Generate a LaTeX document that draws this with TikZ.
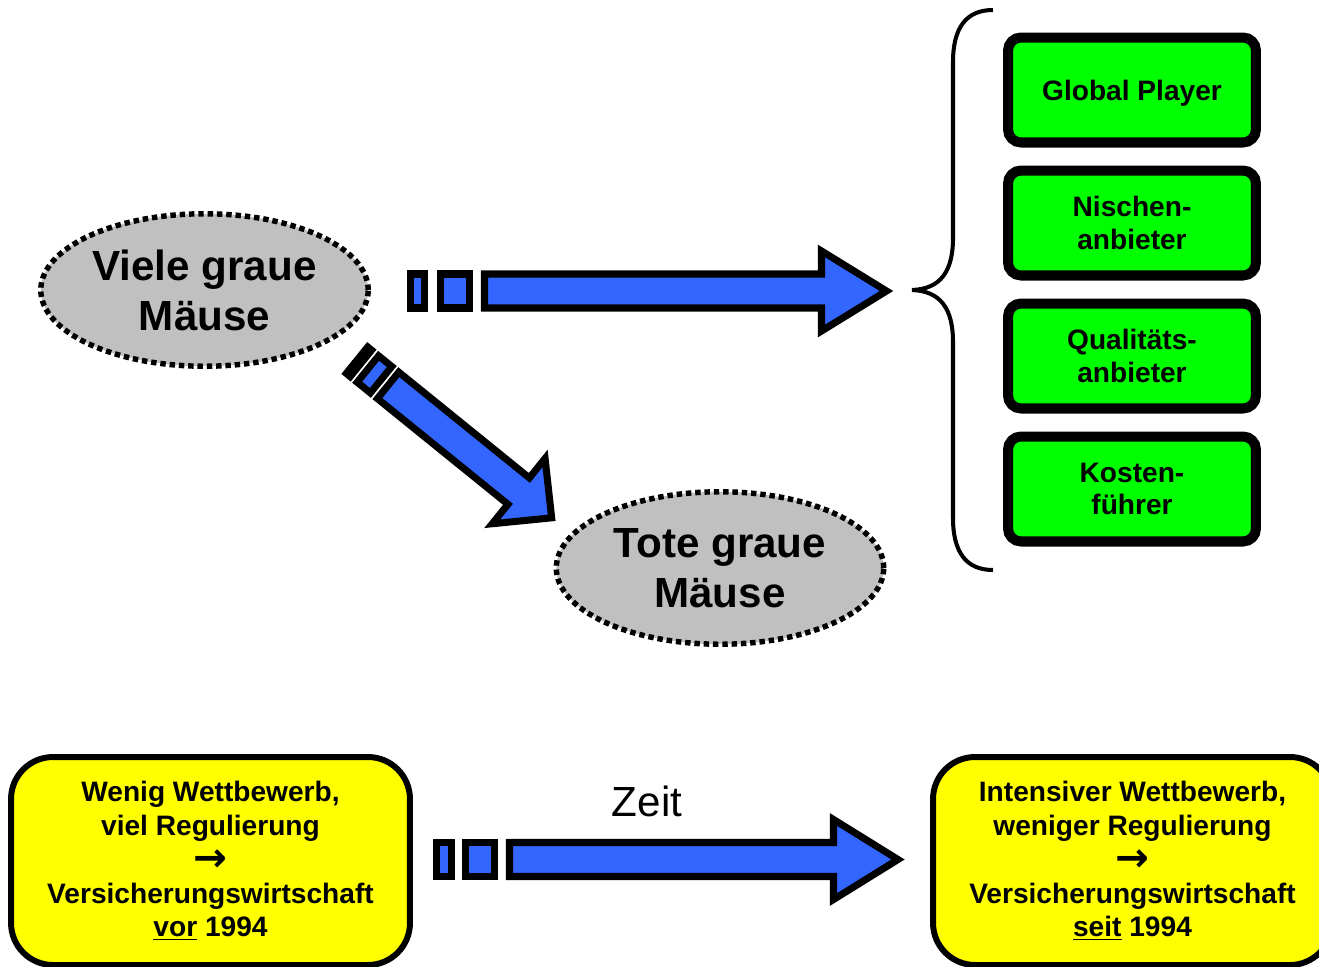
\documentclass[tikz,border=0pt]{standalone}
\usepackage{fontspec}
\setmainfont{Liberation Sans}
\newfontfamily\pfeilfont{DejaVu Sans}
\usepackage{tikz}
\usetikzlibrary{shapes.geometric,calc}
\definecolor{pfeilblau}{HTML}{3366FF}
\definecolor{mausgrau}{HTML}{C0C0C0}
\definecolor{typgruen}{HTML}{00FF00}
\definecolor{zeitgelb}{HTML}{FFFF00}
% fat arrow: origin, angle, end rect 1, start/end rect 2, shaft start, head base, tip, head half width
\newcommand{\fatarrow}[9]{%
  \begin{scope}[shift={#1},rotate=#2]
    \draw[blockpfeil] (0,-17) rectangle (#3,17);
    \draw[blockpfeil] (#4,-17) rectangle (#5,17);
    \draw[blockpfeil] (#6,-17)--(#7,-17)--(#7,-#9)--(#8,0)--(#7,#9)--(#7,17)--(#6,17)--cycle;
  \end{scope}}
\newcommand{\folgt}{\smash{\raisebox{-1pt}{\pfeilfont\fontsize{23}{19.2}\selectfont →}}}

\begin{document}
\begin{tikzpicture}[x=0.02cm,y=-0.02cm,
  blockpfeil/.style={draw,fill=pfeilblau,line width=4pt},
  maus/.style={ellipse,fill=mausgrau,draw,line width=3.1pt,dash pattern=on 3.1pt off 2.2pt,
    minimum width=6.55cm,minimum height=3.05cm,inner sep=0pt,align=center,
    font=\fontsize{24}{28.5}\selectfont\bfseries},
  typbox/.style={draw,fill=typgruen,line width=5.7pt,rounded corners=0.26cm,
    minimum width=4.96cm,minimum height=2.1cm,align=center,
    font=\fontsize{16}{18.3}\selectfont\bfseries},
  zeitbox/.style={draw,fill=zeitgelb,line width=3.4pt,rounded corners=0.84cm,
    minimum width=7.98cm,minimum height=4.16cm,align=center,
    font=\fontsize{16}{19.2}\selectfont\bfseries}]
\useasboundingbox (0,0) rectangle (1319,967);
\clip (0,0) rectangle (1319,967);
%\draw[help lines,step=1cm](0,0)grid(1319,967);

% mice
\node[maus] (viele) at (204.5,290) {Viele graue\\Mäuse};
\node[maus] (tote) at (720,568) {Tote graue\\Mäuse};

% strategy types
\node[typbox,text depth=0pt] (global) at (1132,90) {Global Player};
\node[typbox] (nische) at (1132,223) {Nischen-\\anbieter};
\node[typbox] (qualitaet) at (1132,356) {Qualitäts-\\anbieter};
\node[typbox] (kosten) at (1132,489) {Kosten-\\führer};

% brace
\draw[line width=2.3pt] (993,10) .. controls (966,10) and (953,28) .. (953,62) -- (953,238)
  .. controls (953,272) and (940,289) .. (912,290)
  .. controls (940,291) and (953,308) .. (953,342) -- (953,518)
  .. controls (953,552) and (966,570) .. (993,570);

% arrows
\coordinate (p1) at (410.5,291);
\coordinate (p2) at (357,360.2);
\coordinate (p3) at (436.5,859.5);
\fatarrow{(p1)}{0}{14}{30}{59}{74}{411}{476}{40}
\fatarrow{(p2)}{-39}{5}{14}{31}{40}{208}{250.5}{42}
\fatarrow{(p3)}{0}{15}{29}{58}{73}{397}{461.5}{40}

% time line
\node[zeitbox] (vor) at (210.5,861) {Wenig Wettbewerb,\\viel Regulierung\\\folgt\\Versicherungswirtschaft\\\underline{vor} 1994};
\node[zeitbox] (seit) at (1132.5,861) {Intensiver Wettbewerb,\\weniger Regulierung\\\folgt\\Versicherungswirtschaft\\\underline{seit} 1994};
\node[font=\fontsize{24}{28}\selectfont] (zeit) at (647,801) {Zeit};
\end{tikzpicture}
\end{document}
